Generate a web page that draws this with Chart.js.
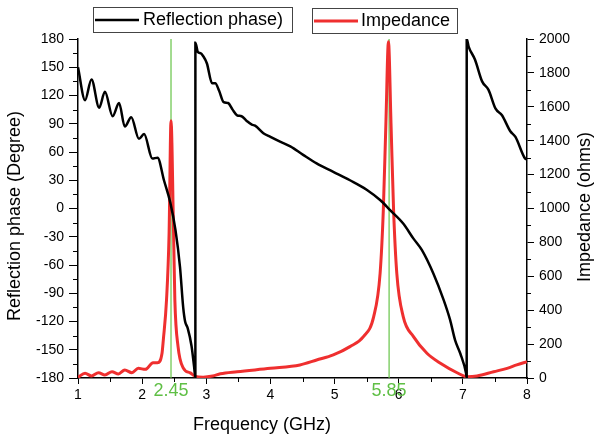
<!DOCTYPE html>
<html>
<head>
<meta charset="utf-8">
<script src="https://cdn.jsdelivr.net/npm/chart.js@4/dist/chart.umd.min.js"></script>
<style>
  body { margin: 0; background: #fff; }
  canvas { display: block; }
</style>
</head>
<body>
<canvas id="chart" width="594" height="439"></canvas>
<script>
// reflection phase (deg) vs frequency (GHz), wraps at -180 -> +180
const phaseFreq = [1.00, 1.11, 1.21, 1.33, 1.42, 1.54, 1.64, 1.73, 1.83, 1.95, 2.03, 2.16, 2.24, 2.34, 2.44, 2.52, 2.59, 2.64, 2.67, 2.71, 2.77, 2.81, 2.83,
  2.8301, 2.87, 2.91, 2.95, 3.01, 3.09, 3.14, 3.20, 3.27, 3.34, 3.41, 3.48, 3.55, 3.63, 3.71, 3.76, 3.89, 4.00, 4.15, 4.31, 4.51, 4.72, 4.98, 5.24, 5.50, 5.71, 5.87, 6.07, 6.23, 6.36, 6.54, 6.70, 6.80, 6.88, 6.96, 7.05, 7.06,
  7.0601, 7.09, 7.19, 7.30, 7.40, 7.51, 7.61, 7.74, 7.82, 7.97, 8.00];
const phaseDeg = [150, 115, 137, 107, 124, 98, 112, 87, 97, 74, 79, 53, 54, 30, 6, -23, -62, -105, -120, -127, -146, -168, -180,
  176, 166, 165, 162, 154, 133, 133, 125, 113, 112, 105, 99, 98, 93, 89, 88, 80, 76, 71, 66, 57, 48, 39, 30, 20, 9, -2, -16, -32, -44, -69, -97, -118, -140, -154, -175, -180,
  180, 172, 158, 135, 126, 106, 99, 82, 76, 53, 52];

// impedance (ohms) vs frequency (GHz)
const impFreq = [1.00, 1.11, 1.21, 1.32, 1.42, 1.53, 1.63, 1.73, 1.84, 1.94, 2.05, 2.17, 2.24, 2.31, 2.33, 2.38, 2.42, 2.45, 2.49, 2.51, 2.56, 2.64, 2.75, 2.83, 2.95, 3.10, 3.22, 3.48, 4.00, 4.46, 4.72, 4.98, 5.24, 5.45, 5.61, 5.71, 5.76, 5.80, 5.84, 5.88, 5.92, 5.97, 6.07, 6.23, 6.44, 6.65, 6.91, 7.06, 7.22, 7.48, 7.69, 7.84, 8.00];
const impOhm = [4, 28, 12, 31, 18, 37, 24, 47, 31, 57, 51, 90, 90, 146, 224, 460, 853, 1518, 853, 460, 185, 60, 30, 10, 5, 12, 25, 37, 57, 77, 106, 136, 185, 244, 362, 618, 991, 1500, 1984, 1500, 991, 618, 362, 244, 146, 87, 31, 8, 12, 37, 57, 77, 96];

const markerFreq = [2.45, 5.85];
const markerLabels = ["2.45", "5.85"];

const xTicks = [1, 2, 3, 4, 5, 6, 7, 8];
const phaseTicks = [-180, -150, -120, -90, -60, -30, 0, 30, 60, 90, 120, 150, 180];
const impTicks = [0, 200, 400, 600, 800, 1000, 1200, 1400, 1600, 1800, 2000];

const FONT = "'Liberation Sans', Arial, sans-serif";
const RED = "#ef2f2f";
const GREEN = "#66c447";

const phaseData = phaseFreq.map((f, i) => ({ x: f, y: phaseDeg[i] }));
const impData = impFreq.map((f, i) => ({ x: f, y: impOhm[i] }));

const extras = {
  id: "extras",
  beforeDatasetsDraw(chart) {
    const { ctx, chartArea, scales } = chart;
    ctx.save();
    ctx.strokeStyle = GREEN;
    ctx.lineWidth = 1.2;
    markerFreq.forEach(f => {
      const px = scales.x.getPixelForValue(f);
      ctx.beginPath();
      ctx.moveTo(px, chartArea.top);
      ctx.lineTo(px, chartArea.bottom);
      ctx.stroke();
    });
    ctx.restore();
  },
  afterDraw(chart) {
    const { ctx, chartArea, scales } = chart;
    ctx.save();
    // minor ticks
    ctx.strokeStyle = "#000";
    ctx.lineWidth = 1;
    ctx.beginPath();
    for (let i = 0; i < xTicks.length - 1; i++) {
      const px = Math.round(scales.x.getPixelForValue(xTicks[i] + 0.5)) + 0.5;
      ctx.moveTo(px, chartArea.bottom);
      ctx.lineTo(px, chartArea.bottom + 4);
    }
    for (let i = 0; i < phaseTicks.length - 1; i++) {
      const py = Math.round(scales.y.getPixelForValue(phaseTicks[i] + 15)) + 0.5;
      ctx.moveTo(chartArea.left, py);
      ctx.lineTo(chartArea.left - 5, py);
    }
    for (let i = 0; i < impTicks.length - 1; i++) {
      const py = Math.round(scales.y1.getPixelForValue(impTicks[i] + 100)) + 0.5;
      ctx.moveTo(chartArea.right, py);
      ctx.lineTo(chartArea.right + 4, py);
    }
    ctx.stroke();

    // marker labels
    ctx.fillStyle = "#5fbf45";
    ctx.font = "18px " + FONT;
    ctx.textAlign = "center";
    ctx.textBaseline = "middle";
    markerFreq.forEach((f, i) => {
      ctx.fillText(markerLabels[i], scales.x.getPixelForValue(f), 391);
    });

    // axis titles
    ctx.fillStyle = "#000";
    ctx.fillText("Frequency (GHz)", 262, 425);
    ctx.save();
    ctx.translate(15, 216);
    ctx.rotate(-Math.PI / 2);
    ctx.fillText("Reflection phase (Degree)", 0, 0);
    ctx.restore();
    ctx.save();
    ctx.translate(585, 207);
    ctx.rotate(-Math.PI / 2);
    ctx.fillText("Impedance (ohms)", 0, 0);
    ctx.restore();

    // legend boxes
    ctx.strokeStyle = "#444";
    ctx.lineWidth = 1;
    ctx.strokeRect(93.5, 7.5, 199, 25);
    ctx.strokeRect(312.5, 8.5, 145, 25);
    ctx.lineWidth = 2.5;
    ctx.strokeStyle = "#000";
    ctx.beginPath();
    ctx.moveTo(95, 20);
    ctx.lineTo(139, 20);
    ctx.stroke();
    ctx.strokeStyle = RED;
    ctx.lineWidth = 3;
    ctx.beginPath();
    ctx.moveTo(314, 21);
    ctx.lineTo(358, 21);
    ctx.stroke();
    ctx.textAlign = "left";
    ctx.fillStyle = "#000";
    ctx.fillText("Reflection phase)", 143, 20);
    ctx.fillText("Impedance", 361, 21);
    ctx.restore();
  }
};

const plain = v => String(v);

const ctx = document.getElementById("chart").getContext("2d");
const config = {
  type: "line",
  data: {
    datasets: [{
      label: "Reflection phase)",
      data: phaseData,
      yAxisID: "y",
      borderColor: "#000",
      borderWidth: 2.5,
      pointRadius: 0,
      cubicInterpolationMode: "monotone"
    }, {
      label: "Impedance",
      data: impData,
      yAxisID: "y1",
      borderColor: RED,
      borderWidth: 3,
      pointRadius: 0,
      cubicInterpolationMode: "monotone"
    }]
  },
  options: {
    responsive: false,
    animation: false,
    layout: { padding: { top: 39, left: 0, right: 0, bottom: 0 } },
    plugins: { legend: { display: false }, tooltip: { enabled: false } },
    scales: {
      x: {
        type: "linear",
        min: 1,
        max: 8,
        afterFit: s => { s.height = 61; },
        afterBuildTicks: s => { s.ticks = xTicks.map(v => ({ value: v })); },
        ticks: { font: { family: FONT, size: 14 }, color: "#000", padding: 3, maxRotation: 0, callback: plain },
        grid: { drawOnChartArea: false, tickLength: 6, tickColor: "#000", tickWidth: 1 },
        border: { color: "#000", width: 1.5 }
      },
      y: {
        position: "left",
        min: -180,
        max: 180,
        afterFit: s => { s.width = 78; },
        afterBuildTicks: s => { s.ticks = phaseTicks.map(v => ({ value: v })); },
        ticks: { font: { family: FONT, size: 14 }, color: "#000", padding: 5, callback: plain },
        grid: { drawOnChartArea: false, tickLength: 9, tickColor: "#000", tickWidth: 1 },
        border: { color: "#000", width: 1.5 }
      },
      y1: {
        position: "right",
        min: 0,
        max: 2000,
        afterFit: s => { s.width = 67; },
        afterBuildTicks: s => { s.ticks = impTicks.map(v => ({ value: v })); },
        ticks: { font: { family: FONT, size: 14 }, color: "#000", padding: 5, callback: plain },
        grid: { drawOnChartArea: false, tickLength: 7, tickColor: "#000", tickWidth: 1 },
        border: { color: "#000", width: 1.5 }
      }
    }
  },
  plugins: [extras]
};

const chart = new Chart(ctx, config);
</script>
</body>
</html>
